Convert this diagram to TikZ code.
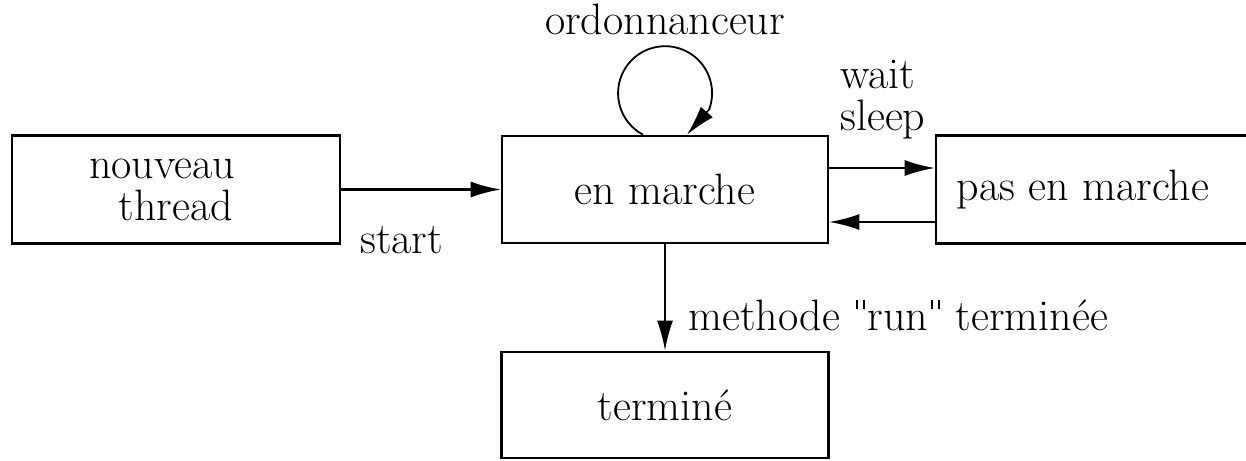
\documentclass[tikz,border=0pt]{standalone}
\usepackage{fontspec}
\usetikzlibrary{arrows.meta}
\newcommand\strq{\hspace{1.5pt}\raisebox{10.5pt}{\rule{1pt}{4.5pt}\hspace{2.2pt}\rule{1pt}{4.5pt}}\hspace{1.5pt}}
\begin{document}
\begin{tikzpicture}[x=0.5pt,y=-0.5pt,
  box/.style={draw, line width=1.3pt, inner sep=0pt, font=\fontsize{22}{21}\selectfont},
  lbl/.style={inner sep=0pt, font=\fontsize{22}{21}\selectfont},
  arr/.style={line width=1.1pt, -{Latex[length=15pt,width=8pt]}},
  looparr/.style={line width=0.9pt, -{Latex[length=15pt,width=8pt]}}]
\useasboundingbox (0,0) rectangle (1246,460);
\node[box, minimum width=164pt, minimum height=54pt, align=center] (nt) at (176,189.5) {nouveau\hspace*{14pt}\\thread};
\node[box, minimum width=163pt, minimum height=53.5pt] (em) at (665,189.5) {en marche};
\node[box, minimum width=162pt, minimum height=54pt] (pm) at (1098,189.5) {pas en marche\hspace*{15pt}};
\node[box, minimum width=163.5pt, minimum height=53pt] (tm) at (665,405) {termin\'e};
\draw[arr] (nt.east) -- (em.west);
\draw[arr] ([yshift=10.75pt]em.east) -- ([yshift=10.75pt]pm.west);
\draw[arr] ([yshift=-16.25pt]pm.west) -- ([yshift=-16.25pt]em.east);
\draw[arr] (em.south) -- (tm.north);
\draw[looparr] ([xshift=-11pt]em.north) arc[start angle=242, end angle=-20, radius=23.5pt] -- ([xshift=11pt]em.north);
\node[lbl, anchor=base] (ord) at (665,35) {ordonnanceur};
\node[lbl, anchor=base west] (wt) at (840,89) {wait};
\node[lbl, anchor=base west] (sl) at (840,130) {sleep};
\node[lbl, anchor=base west] (st) at (360,253) {start};
\node[lbl, anchor=base west] (mr) at (688,330) {methode \strq run\strq{} termin\'ee};
\end{tikzpicture}
\end{document}
